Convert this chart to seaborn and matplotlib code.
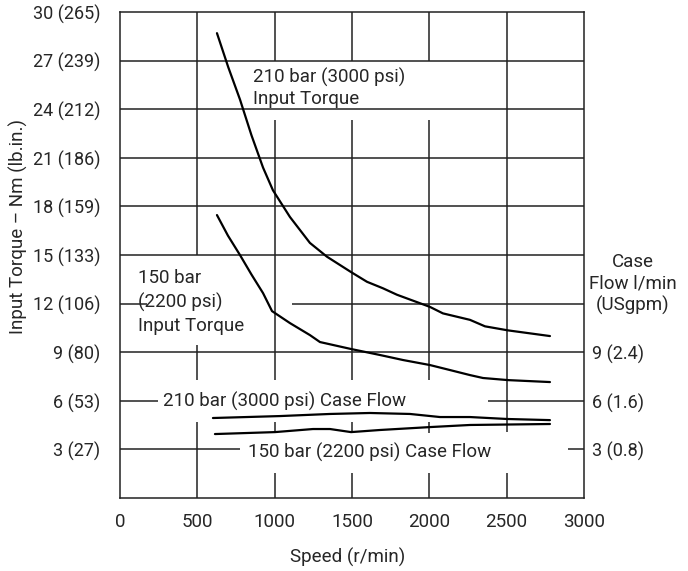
import matplotlib
matplotlib.use("Agg")
import matplotlib.pyplot as plt
import seaborn as sns
from matplotlib import font_manager

# speed (r/min) and input torque (Nm)
speed_210_torque = [627, 700, 776, 850, 925, 989, 1099, 1228, 1338, 1494, 1597,
                    1700, 1791, 2004, 2088, 2263, 2360, 2509, 2780]
torque_210 = [28.7, 26.6, 24.6, 22.4, 20.4, 19.0, 17.35, 15.75, 14.9, 13.95, 13.35,
              12.95, 12.55, 11.8, 11.4, 11.0, 10.6, 10.35, 10.0]

speed_150_torque = [627, 698, 776, 850, 925, 983, 1099, 1228, 1293, 1494, 1681, 1830,
                    2004, 2134, 2263, 2347, 2509, 2780]
torque_150 = [17.47, 16.2, 15.0, 13.8, 12.65, 11.54, 10.8, 10.06, 9.63, 9.2, 8.83, 8.52,
              8.21, 7.9, 7.59, 7.41, 7.28, 7.16]

# case flow (l/min)
speed_210_flow = [601, 1034, 1358, 1616, 1875, 2069, 2263, 2502, 2780]
flow_210 = [4.94, 5.06, 5.19, 5.25, 5.19, 5.0, 5.0, 4.88, 4.81]

speed_150_flow = [614, 1002, 1248, 1358, 1494, 1681, 2004, 2263, 2780]
flow_150 = [3.95, 4.07, 4.26, 4.26, 4.07, 4.2, 4.38, 4.51, 4.57]

x_ticks = [0, 500, 1000, 1500, 2000, 2500, 3000]
y_ticks = [3, 6, 9, 12, 15, 18, 21, 24, 27, 30]
y_tick_labels = ["3 (27)", "6 (53)", "9 (80)", "12 (106)", "15 (133)", "18 (159)",
                 "21 (186)", "24 (212)", "27 (239)", "30 (265)"]
flow_ticks = [3, 6, 9]
flow_tick_labels = ["3 (0.8)", "6 (1.6)", "9 (2.4)"]

sns.set_style("white")

available = {f.name for f in font_manager.fontManager.ttflist}
if "Liberation Sans Narrow" in available:
    FONT, FS, FS_TICK = "Liberation Sans Narrow", 14, 14
else:
    FONT, FS, FS_TICK = "Roboto", 13.5, 13
plt.rcParams["font.family"] = [FONT, "DejaVu Sans"]

fig = plt.figure(figsize=(6.88, 5.71), dpi=100)
ax = fig.add_axes([0.1744, 0.1278, 0.6744, 0.851])
ax.set_xlim(0, 3000)
ax.set_ylim(0, 30)

GRID = dict(color="#222222", lw=1.1, zorder=1)

# horizontal grid lines, with gaps where the labels sit
for y in [9, 15, 18, 21, 24, 27]:
    ax.hlines(y, 0, 3000, **GRID)
for y, segs in {12: [(0, 175), (1112, 3000)],
                6: [(0, 246), (2380, 3000)],
                3: [(0, 776), (2897, 3000)]}.items():
    for a, b in segs:
        ax.hlines(y, a, b, **GRID)

# vertical grid lines
vsegs = {500: [(0, 4.69), (7.28, 9.44), (15, 30)],
         1000: [(0, 1.54), (4.0, 4.69), (7.28, 23.33), (27, 30)],
         1500: [(0, 1.54), (4.0, 4.69), (7.28, 23.33), (27, 30)],
         2000: [(0, 1.54), (4.0, 4.69), (7.28, 23.33), (27, 30)],
         2500: [(0, 1.54), (4.07, 30)]}
for x, segs in vsegs.items():
    for a, b in segs:
        ax.vlines(x, a, b, **GRID)

sns.lineplot(x=speed_210_torque, y=torque_210, ax=ax, color="black", lw=1.6,
             sort=False, estimator=None, zorder=3)
sns.lineplot(x=speed_150_torque, y=torque_150, ax=ax, color="black", lw=1.6,
             sort=False, estimator=None, zorder=3)

ax.set_xticks(x_ticks)
ax.set_xticklabels([str(t) for t in x_ticks], fontsize=FS)
ax.set_yticks(y_ticks)
ax.set_yticklabels(y_tick_labels, fontsize=FS_TICK)
ax.tick_params(axis="y", length=0, pad=14)
ax.tick_params(axis="x", length=0, pad=11)
for s in ax.spines.values():
    s.set_color("#222222")
    s.set_linewidth(1.1)

# right axis: case flow
ax2 = ax.twinx()
ax2.set_ylim(0, 30)
sns.lineplot(x=speed_210_flow, y=flow_210, ax=ax2, color="black", lw=1.6,
             sort=False, estimator=None)
sns.lineplot(x=speed_150_flow, y=flow_150, ax=ax2, color="black", lw=1.6,
             sort=False, estimator=None)
ax2.set_yticks(flow_ticks)
ax2.set_yticklabels(flow_tick_labels, fontsize=FS_TICK)
ax2.tick_params(axis="y", length=0, pad=6)
for s in ax2.spines.values():
    s.set_visible(False)
ax2.set_ylabel("")

# curve labels
ax.text(860, 25.3, "210 bar (3000 psi)\nInput Torque", fontsize=FS,
        ha="left", va="center", linespacing=1.2)
ax.text(116, 12.1, "150 bar\n(2200 psi)\nInput Torque", fontsize=FS,
        ha="left", va="center", linespacing=1.35)
ax.text(278, 5.95, "210 bar (3000 psi) Case Flow", fontsize=FS,
        ha="left", va="center")
ax.text(828, 2.8, "150 bar (2200 psi) Case Flow", fontsize=FS,
        ha="left", va="center")

fig.text(633 / 688, 1 - 284 / 571, "Case\nFlow l/min\n(USgpm)", fontsize=FS,
         ha="center", va="center", linespacing=1.22)
fig.text(348 / 688, 1 - 557 / 571, "Speed (r/min)", fontsize=FS,
         ha="center", va="center")
fig.text(18 / 688, 1 - 226 / 571, "Input Torque \u2013 Nm (lb.in.)", fontsize=FS,
         ha="center", va="center", rotation=90)

fig.savefig("out.png", dpi=100)
